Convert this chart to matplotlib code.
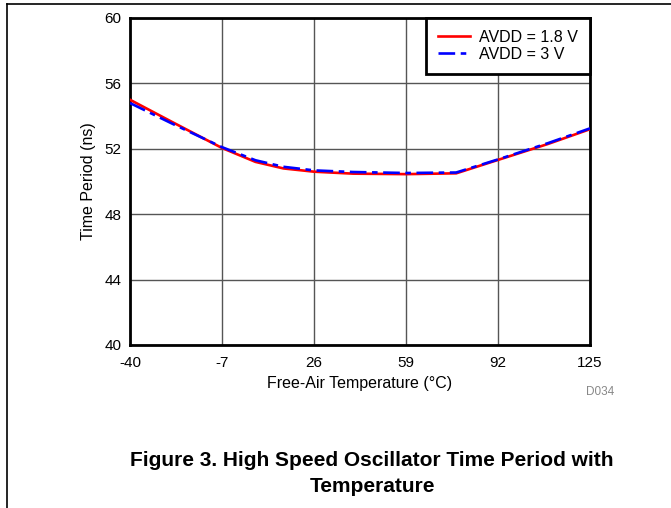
import matplotlib
matplotlib.use("Agg")
import matplotlib.pyplot as plt
from matplotlib.lines import Line2D

plt.rcParams['font.family'] = ['Liberation Sans', 'DejaVu Sans']
plt.rcParams['lines.scale_dashes'] = False

temps = [-40, -25, -7, 5, 15, 26, 40, 59, 77, 92, 110, 125]
period_18v = [55.0, 53.65, 52.05, 51.2, 50.8, 50.6, 50.48, 50.45, 50.5, 51.32, 52.3, 53.2]
period_3v = [54.8, 53.55, 52.1, 51.3, 50.9, 50.68, 50.58, 50.52, 50.55, 51.35, 52.35, 53.25]
xticks = [-40, -7, 26, 59, 92, 125]
yticks = [40, 44, 48, 52, 56, 60]

fig = plt.figure(figsize=(6.71, 5.08), dpi=100)
ax = fig.add_axes([130/671, 1-345/508, 460/671, 327/508])

ax.plot(temps, period_18v, color='#ff0000', lw=1.9, label='AVDD = 1.8 V', zorder=3)
ax.plot(temps, period_3v, color='#0000ff', lw=1.9, linestyle=(0, (12, 4, 4, 4)),
        label='AVDD = 3 V', zorder=4)

ax.set_xlim(-40, 125)
ax.set_ylim(40, 60)
ax.set_xticks(xticks)
ax.set_yticks(yticks)
ax.set_xticklabels([str(t) for t in xticks])
ax.tick_params(length=0, labelsize=11)
ax.tick_params(axis='x', pad=8)
ax.tick_params(axis='y', pad=6)
ax.grid(True, color='#555555', lw=1.0)
ax.set_axisbelow(True)
for s in ax.spines.values():
    s.set_linewidth(2.0)
    s.set_color('black')

ax.set_xlabel('Free-Air Temperature (°C)', fontsize=11.5, labelpad=4)
ax.set_ylabel('Time Period (ns)', fontsize=11.5, labelpad=6)

leg = ax.legend(loc='upper right', fontsize=11.5, frameon=True, fancybox=False,
                borderaxespad=0, handlelength=2.0, handletextpad=0.6,
                borderpad=0.75, labelspacing=0.12)
leg.get_frame().set_edgecolor('black')
leg.get_frame().set_linewidth(2.0)
leg.get_frame().set_alpha(1)

fig.text(600/671, 1-392/508, 'D034', fontsize=8.5, color='#888888', ha='center', va='center')
fig.text(372/671, 1-461/508, 'Figure 3. High Speed Oscillator Time Period with',
         fontsize=15, fontweight='bold', ha='center', va='center')
fig.text(372/671, 1-486/508, 'Temperature',
         fontsize=15, fontweight='bold', ha='center', va='center')

fig.add_artist(Line2D([7/671, 1], [1-4/508, 1-4/508], color='black', lw=1.2,
                      transform=fig.transFigure))
fig.add_artist(Line2D([7/671, 7/671], [0, 1-4/508], color='black', lw=1.2,
                      transform=fig.transFigure))

fig.savefig('out.png', dpi=100)
